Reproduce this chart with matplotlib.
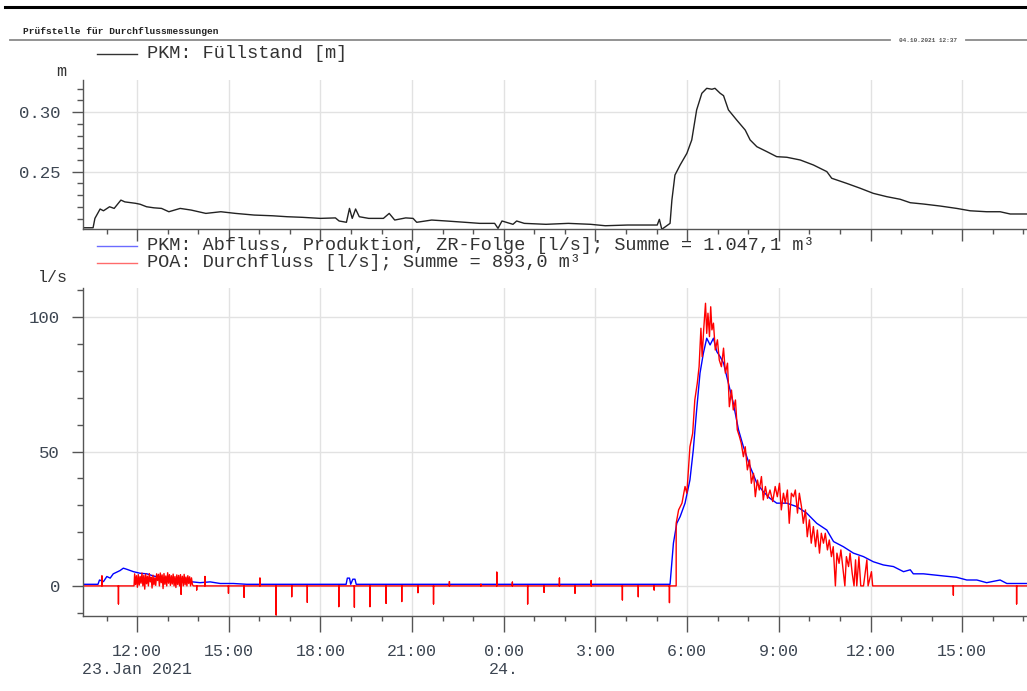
import matplotlib
matplotlib.use("Agg")
import matplotlib.pyplot as plt
from matplotlib.lines import Line2D
from matplotlib.ticker import MultipleLocator, FuncFormatter

plt.rcParams["font.family"] = ["Liberation Mono", "DejaVu Sans Mono"]

# times are hours counted from 23.01.2021 00:00
level_t = [10.23, 10.56, 10.62, 10.79, 10.90, 11.10, 11.25, 11.47, 11.60, 11.95,
           12.10, 12.31, 12.55, 12.80, 13.04, 13.41, 13.77, 14.25, 14.74, 15.22,
           15.83, 16.43, 16.91, 17.40, 18.00, 18.49, 18.61, 18.85, 18.95, 19.04,
           19.15, 19.27, 19.58, 20.06, 20.25, 20.43, 20.79, 21.03, 21.15, 21.64,
           22.12, 22.73, 23.21, 23.70, 23.81, 23.94, 24.30, 24.42, 24.67, 25.38,
           26.11, 26.84, 27.32, 28.05, 28.78, 29.02, 29.09, 29.17, 29.44, 29.50,
           29.60, 29.77, 29.99, 30.15, 30.31, 30.48, 30.64, 30.81, 30.91, 31.08,
           31.19, 31.35, 31.62, 31.90, 32.06, 32.28, 32.61, 32.93, 33.26, 33.70,
           34.13, 34.57, 34.73, 35.22, 35.66, 36.09, 36.53, 36.97, 37.30, 37.73,
           38.28, 38.82, 39.26, 39.80, 40.24, 40.57, 41.11]
level_m = [0.2027, 0.2027, 0.2106, 0.2185, 0.2170, 0.2204, 0.2190, 0.2260, 0.2245, 0.2233,
           0.2225, 0.2204, 0.2195, 0.2190, 0.2162, 0.2190, 0.2176, 0.2148, 0.2162, 0.2148,
           0.2134, 0.2128, 0.2120, 0.2115, 0.2106, 0.2110, 0.2084, 0.2073, 0.2190, 0.2106,
           0.2185, 0.2120, 0.2106, 0.2106, 0.2148, 0.2092, 0.2110, 0.2106, 0.2073, 0.2092,
           0.2084, 0.2073, 0.2064, 0.2064, 0.2022, 0.2084, 0.2056, 0.2084, 0.2064, 0.2056,
           0.2064, 0.2056, 0.2044, 0.2050, 0.2050, 0.2050, 0.2098, 0.2014, 0.2064, 0.2260,
           0.2471, 0.2556, 0.2654, 0.2767, 0.3020, 0.3160, 0.3202, 0.3194, 0.3202, 0.3160,
           0.3140, 0.3020, 0.2935, 0.2850, 0.2767, 0.2710, 0.2668, 0.2626, 0.2621, 0.2598,
           0.2556, 0.2500, 0.2444, 0.2401, 0.2360, 0.2317, 0.2289, 0.2267, 0.2238, 0.2227,
           0.2210, 0.2190, 0.2170, 0.2162, 0.2162, 0.2143, 0.2143]

# PKM Abfluss [l/s]
pkm_t = [10.23, 10.72, 10.77, 10.90, 11.01, 11.12, 11.22, 11.44, 11.55, 11.66,
         11.88, 12.10, 12.32, 12.53, 12.75, 12.97, 13.19, 13.41, 13.73, 14.06,
         14.39, 14.72, 15.15, 15.59, 18.84, 18.88, 18.95, 18.99, 19.06, 19.13,
         19.17, 29.44, 29.55, 29.66, 29.77, 29.93, 30.09, 30.20, 30.31, 30.42,
         30.53, 30.64, 30.75, 30.86, 30.97, 31.08, 31.19, 31.35, 31.51, 31.68,
         31.84, 32.06, 32.28, 32.49, 32.71, 32.93, 33.26, 33.59, 33.91, 34.24,
         34.57, 34.79, 35.11, 35.44, 35.77, 36.09, 36.42, 36.75, 37.08, 37.30,
         37.40, 37.73, 38.06, 38.39, 38.82, 39.15, 39.48, 39.80, 40.24, 40.46,
         40.78, 41.11]
pkm_q = [0.6, 0.6, 2.2, 1.6, 3.5, 2.9, 4.5, 5.7, 6.6, 6.2,
         5.3, 4.7, 4.5, 3.7, 3.2, 2.2, 2.5, 1.9, 1.6, 1.2,
         1.5, 0.9, 0.9, 0.6, 0.6, 2.9, 2.9, 0.6, 2.5, 2.5,
         0.6, 0.6, 15.9, 23.3, 25.8, 30.8, 39.4, 50.6, 65.5, 79.2,
         86.6, 92.2, 89.7, 92.2, 87.2, 85.3, 82.9, 75.4, 68.0, 58.1,
         51.8, 44.4, 38.2, 35.1, 32.6, 30.8, 30.8, 29.5, 27.1, 23.3,
         20.8, 16.5, 14.6, 12.2, 10.9, 9.0, 7.8, 7.2, 5.3, 6.0,
         4.5, 4.5, 4.1, 3.7, 3.2, 2.2, 2.2, 1.2, 2.2, 0.9,
         0.9, 0.9]

# POA Durchfluss [l/s]: noisy stretch around midday, single spikes, storm event
poa_noise_t = [11.90, 11.92, 11.95, 11.98, 12.01, 12.04, 12.07, 12.10, 12.13, 12.16,
               12.19, 12.22, 12.25, 12.28, 12.31, 12.34, 12.37, 12.40, 12.43, 12.46,
               12.49, 12.52, 12.55, 12.58, 12.61, 12.64, 12.67, 12.70, 12.73, 12.76,
               12.79, 12.82, 12.85, 12.88, 12.91, 12.94, 12.97, 13.00, 13.03, 13.06,
               13.09, 13.12, 13.15, 13.18, 13.21, 13.24, 13.27, 13.30, 13.33, 13.36,
               13.39, 13.42, 13.45, 13.48, 13.51, 13.54, 13.57, 13.60, 13.63, 13.66,
               13.69, 13.72, 13.75, 13.78, 13.81, 13.84]
poa_noise_q = [0.0, 4.5, 0.5, 3.8, -0.5, 4.2, 0.3, 3.5, 1.0, 4.8,
               0.0, 3.9, -1.2, 4.4, 0.8, 3.6, 0.0, 4.6, 1.5, 3.2,
               -0.8, 4.0, 0.4, 3.0, 0.2, 4.5, 2.0, 4.3, 0.0, 4.8,
               1.2, 4.1, -1.0, 4.6, 0.6, 3.7, 0.0, 4.9, 1.0, 4.2,
               0.2, 3.8, 0.7, 4.4, 0.0, 3.5, -0.6, 4.1, 0.5, 3.9,
               0.0, 4.2, 1.0, 3.6, 0.0, 4.3, 0.4, 3.3, 0.0, 3.8,
               0.9, 3.4, 0.0, 3.0, 0.5, 0.0]
poa_spike_t = [10.85, 11.39, 13.44, 13.95, 14.22, 14.99, 15.50, 16.02, 16.55, 17.06,
               17.57, 18.60, 19.11, 19.62, 20.15, 20.66, 21.19, 21.70, 22.22, 23.25,
               23.77, 24.28, 24.78, 25.32, 25.82, 26.33, 26.86, 27.88, 28.40, 28.92,
               29.42, 38.71, 40.78]
poa_spike_q = [3.7, -6.7, -3.1, -1.5, 3.5, -2.7, -4.2, 2.9, -10.8, -4.0,
               -6.1, -7.7, -7.9, -7.7, -6.5, -5.8, -2.5, -6.7, 1.6, 0.6,
               5.1, 1.4, -6.7, -2.4, 2.9, -2.7, 2.0, -5.2, -4.0, -1.5,
               -6.2, -3.4, -6.7]
poa_event_t = [29.64, 29.64, 29.72, 29.83, 29.93, 29.99, 30.09, 30.18, 30.25, 30.33,
               30.39, 30.45, 30.49, 30.54, 30.60, 30.64, 30.68, 30.73, 30.77, 30.81,
               30.86, 30.92, 30.99, 31.05, 31.12, 31.19, 31.25, 31.32, 31.38, 31.45,
               31.51, 31.58, 31.64, 31.71, 31.77, 31.84, 31.90, 31.97, 32.04, 32.10,
               32.17, 32.23, 32.30, 32.36, 32.43, 32.49, 32.56, 32.63, 32.71, 32.80,
               32.88, 32.95, 33.02, 33.08, 33.15, 33.21, 33.28, 33.34, 33.41, 33.48,
               33.54, 33.61, 33.67, 33.74, 33.80, 33.87, 33.93, 34.00, 34.06, 34.13,
               34.20, 34.26, 34.33, 34.39, 34.46, 34.52, 34.59, 34.65, 34.72, 34.78,
               34.85, 34.90, 34.97, 35.03, 35.10, 35.16, 35.21, 35.28, 35.33, 35.40,
               35.46, 35.51, 35.55, 35.62, 35.68, 35.77, 35.88, 35.92, 36.03, 36.07]
poa_event_q = [0.0, 23.3, 28.3, 30.8, 37.0, 34.5, 51.8, 56.8, 69.2, 75.4,
               81.6, 95.9, 85.3, 95.3, 105.2, 94.0, 101.5, 92.8, 103.9, 95.3,
               97.8, 87.8, 91.6, 84.1, 81.6, 88.5, 79.2, 82.9, 66.7, 72.9,
               65.5, 69.2, 58.1, 55.6, 53.1, 48.1, 51.8, 43.2, 46.9, 38.2,
               41.9, 33.2, 39.4, 35.7, 40.7, 32.0, 37.0, 32.6, 35.7, 31.4,
               37.0, 33.2, 38.2, 28.3, 34.5, 30.8, 35.7, 23.3, 34.5, 33.2,
               35.7, 27.1, 34.5, 29.5, 23.3, 28.3, 18.3, 24.6, 15.9, 22.1,
               14.6, 20.8, 12.2, 19.6, 15.9, 19.6, 13.4, 17.1, 10.9, 14.6,
               0.0, 12.2, 8.4, 13.4, 6.0, 0.0, 10.9, 7.2, 12.2, 4.7,
               0.0, 9.7, 0.0, 10.9, 0.0, 0.0, 9.7, 0.0, 5.3, 0.0]

t_start, t_end = 10.23, 41.12

# assemble POA as one polyline: baseline, spikes drawn as up/down strokes
poa_pts = [(t_start, 0.0)]
for t, q in zip(poa_spike_t, poa_spike_q):
    poa_pts += [(t, 0.0), (t, q), (t, 0.0)]
poa_pts += list(zip(poa_noise_t, poa_noise_q))
poa_pts += list(zip(poa_event_t, poa_event_q))
poa_pts.append((t_end, 0.0))
poa_pts.sort(key=lambda p: p[0])
poa_t = [p[0] for p in poa_pts]
poa_q = [p[1] for p in poa_pts]

W, H = 1027, 691
AX_COL = "#555555"
LBL_COL = "#3d4652"
GRID_COL = "#e2e2e2"


def fx(x):
    return x / W


def fy(y):
    return 1 - y / H


def hour_label(h, pos):
    txt = f"{int(round(h)) % 24}:00"
    if abs(h - 12) < 0.01:
        txt += "\n23.Jan 2021"
    elif abs(h - 24) < 0.01:
        txt += "\n24."
    return txt


def style_axes(ax, major_len):
    for side in ("top", "right"):
        ax.spines[side].set_visible(False)
    for side in ("left", "bottom"):
        ax.spines[side].set_color(AX_COL)
        ax.spines[side].set_linewidth(1.0)
    ax.set_xlim(t_start, t_end)
    ax.xaxis.set_major_locator(MultipleLocator(3))
    ax.xaxis.set_minor_locator(MultipleLocator(1))
    ax.tick_params(axis="x", which="major", length=major_len, width=1, color=AX_COL,
                   labelsize=12, labelcolor=LBL_COL, pad=8.5)
    ax.tick_params(axis="x", which="minor", length=3.6, width=1, color=AX_COL)
    ax.tick_params(axis="y", which="major", length=8, width=1, color=AX_COL,
                   labelsize=12.5, labelcolor=LBL_COL, pad=8.5)
    ax.tick_params(axis="y", which="minor", length=4.3, width=1, color=AX_COL)
    ax.grid(True, which="major", color=GRID_COL, linewidth=1)
    ax.set_axisbelow(True)
    ax.patch.set_alpha(0)


fig = plt.figure(figsize=(W / 100, H / 100), dpi=100)

# header
fig.add_artist(Line2D([fx(5), fx(W)], [fy(7), fy(7)], color="black", linewidth=2.2))
fig.text(fx(23), fy(32), "Prüfstelle für Durchflussmessungen", fontsize=6.8,
         fontweight="bold", color="#222222", va="center", ha="left")
fig.add_artist(Line2D([fx(10), fx(890)], [fy(40), fy(40)], color="#8a8a8a", linewidth=1.3))
fig.add_artist(Line2D([fx(966), fx(W)], [fy(40), fy(40)], color="#8a8a8a", linewidth=1.3))
fig.text(fx(928), fy(40.5), "04.10.2021 12:37", fontsize=4.4, fontweight="bold",
         color="#555555", va="center", ha="center")

# level panel
ax1 = fig.add_axes([fx(83), fy(229.3), 1 - fx(83), (229.3 - 80) / H])
style_axes(ax1, 8.6)
ax1.plot(level_t, level_m, color="#222222", linewidth=1.0)
ax1.set_ylim(0.2014, 0.3272)
ax1.yaxis.set_major_locator(MultipleLocator(0.05))
ax1.yaxis.set_minor_locator(MultipleLocator(0.01))
ax1.yaxis.set_major_formatter(FuncFormatter(lambda v, p: f"{v:.2f}"))
ax1.tick_params(axis="x", which="major", labelbottom=False)

fig.add_artist(Line2D([fx(97), fx(137)], [fy(53.5), fy(53.5)], color="#333333", linewidth=1.0))
fig.text(fx(147), fy(53), "PKM: Füllstand [m]", fontsize=13.4, color="#333333",
         va="center", ha="left")
fig.text(fx(61), fy(72), "m", fontsize=12, color="#333333", va="center", ha="center")

# flow panel
ax2 = fig.add_axes([fx(83), fy(616), 1 - fx(83), (616 - 287.7) / H])
style_axes(ax2, 11.5)
ax2.plot(pkm_t, pkm_q, color="#0000ff", linewidth=1.0)
ax2.plot(poa_t, poa_q, color="#ff0000", linewidth=1.0)
ax2.set_ylim(-11.2, 111.0)
ax2.yaxis.set_major_locator(MultipleLocator(50))
ax2.yaxis.set_minor_locator(MultipleLocator(10))
ax2.xaxis.set_major_formatter(FuncFormatter(hour_label))
fig.canvas.draw()
for lbl in ax2.get_xticklabels():
    lbl.set_linespacing(1.25)

fig.add_artist(Line2D([fx(97), fx(137)], [fy(246), fy(246)], color="#6b6bff", linewidth=1.0))
fig.add_artist(Line2D([fx(97), fx(137)], [fy(263), fy(263)], color="#ff6b6b", linewidth=1.0))
fig.text(fx(147), fy(245.5), "PKM: Abfluss, Produktion, ZR-Folge [l/s]; Summe = 1.047,1 m³",
         fontsize=13.4, color="#333333", va="center", ha="left")
fig.text(fx(147), fy(262.5), "POA: Durchfluss [l/s]; Summe = 893,0 m³",
         fontsize=13.4, color="#333333", va="center", ha="left")
fig.text(fx(53), fy(278), "l/s", fontsize=12, color="#333333", va="center", ha="center")

fig.savefig("out.png", dpi=100, facecolor="white")
